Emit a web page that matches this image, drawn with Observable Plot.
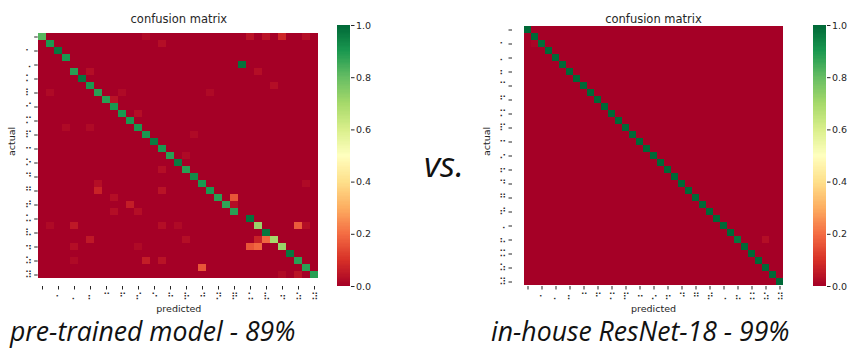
<!DOCTYPE html>
<html><head><meta charset="utf-8">
<script src="https://cdn.jsdelivr.net/npm/d3@7"></script>
<script src="https://cdn.jsdelivr.net/npm/@observablehq/plot@0.6"></script>
<style>
body{margin:0;background:#fff}
#root{position:relative;width:848px;height:349px;overflow:hidden;background:#fff;font-family:"DejaVu Sans",sans-serif;color:#262626}
.abs{position:absolute}
.cap{font-family:"Open Sans",sans-serif;font-style:italic;font-size:26.6px;line-height:26.6px;color:#111;white-space:nowrap}
.vs{font-family:"Open Sans",sans-serif;font-style:italic;font-size:35px;line-height:35px;color:#111;white-space:nowrap}
</style></head><body><div id="root"></div>
<script>
// ---------- data ----------
const leftCols = ["⠀","⠁","⠂","⠃","⠄","⠅","⠆","⠇","⠉","⠊","⠋","⠍","⠎","⠏","⠑","⠒","⠓","⠕","⠗","⠙","⠚","⠛","⠝","⠞","⠟","⠠","⠥","⠦","⠧","⠭","⠲","⠴","⠵","⠺","⠽"];
const leftRows = ["⠀","⠁","⠂","⠃","⠠","⠄","⠅","⠆","⠇","⠉","⠊","⠋","⠍","⠎","⠏","⠑","⠒","⠓","⠕","⠗","⠙","⠚","⠛","⠝","⠞","⠟","⠥","⠦","⠧","⠭","⠲","⠴","⠵","⠺","⠽"];
// diagonal (correct-class rate) per actual row
const leftDiag = [0.82,0.90,0.97,0.90,0.98,0.88,0.97,0.90,0.88,0.88,0.90,0.90,0.90,0.90,0.90,0.96,0.90,0.88,0.96,0.88,0.93,0.90,0.90,0.88,0.87,0.88,0.98,0.72,0.97,0.70,0.72,0.97,0.88,0.88,0.88];
// off-diagonal confusions: [row, col, value]
const leftOff = [
  [0,13,0.02],[0,26,0.04],[0,28,0.04],[0,30,0.08],[0,33,0.03],
  [1,15,0.03],[5,6,0.03],[5,27,0.03],[7,29,0.03],
  [8,1,0.02],[8,10,0.02],[8,21,0.02],[9,9,0.04],[11,12,0.03],
  [13,3,0.02],[13,6,0.02],[14,19,0.02],[17,18,0.02],[19,15,0.03],
  [21,7,0.03],[21,33,0.02],[22,7,0.07],[22,15,0.04],
  [23,9,0.03],[23,24,0.16],[24,11,0.06],[24,24,0.03],
  [25,9,0.03],[25,12,0.03],
  [27,1,0.02],[27,4,0.05],[27,15,0.03],[27,17,0.02],[27,32,0.17],[27,33,0.03],
  [29,6,0.05],[29,18,0.03],[29,27,0.07],[29,28,0.19],
  [30,4,0.03],[30,12,0.02],[30,26,0.16],[30,27,0.19],
  [32,4,0.02],[32,13,0.06],[32,15,0.04],
  [33,20,0.16],[34,30,0.02],[34,32,0.04]
];
const rightLabels = ["⠀","⠁","⠂","⠃","⠄","⠅","⠆","⠇","⠉","⠊","⠋","⠌","⠍","⠎","⠏","⠑","⠒","⠓","⠔","⠕","⠖","⠗","⠙","⠚","⠛","⠝","⠞","⠟","⠠","⠥","⠦","⠧","⠭","⠲","⠵","⠺","⠽"];
const rightDiag = [1,1,0.99,1,1,1,1,1,1,1,1,1,1,1,1,1,1,1,1,1,1,1,1,1,1,1,1,1,1,1,0.97,1,1,1,1,1,1];
const rightOff = [[2,1,0.01],[30,34,0.03]];
const colorTicks = [0,0.2,0.4,0.6,0.8,1.0];
const captions = ["pre-trained model - 89%","in-house ResNet-18 - 99%"];

// ---------- style ----------
const RDYLGN = ["#a50026","#d73027","#f46d43","#fdae61","#fee08b","#ffffbf","#d9ef8b","#a6d96a","#66bd63","#1a9850","#006837"];
const colorScale = {type:"linear", domain: RDYLGN.map((_, i) => i / 10), range: RDYLGN, clamp: true};

function buildCells(rows, cols, diag, off) {
  const m = rows.map(() => cols.map(() => 0));
  rows.forEach((lab, r) => { m[r][cols.indexOf(lab)] = diag[r]; });
  off.forEach(([r, c, v]) => { m[r][c] = v; });
  const out = [];
  m.forEach((row, r) => row.forEach((v, c) => out.push({r, c, v})));
  return out;
}

function heatmap(rows, cols, cells, w, ml, mr) {
  return Plot.plot({
    width: w, height: 320, marginLeft: ml, marginRight: mr, marginTop: 25, marginBottom: 34,
    style: {fontFamily: "DejaVu Sans", fontSize: "9px", color: "#262626", background: "transparent"},
    x: {type: "band", domain: d3.range(cols.length), padding: 0},
    y: {type: "band", domain: d3.range(rows.length), padding: 0},
    color: colorScale,
    marks: [
      Plot.cell(cells, {x: "c", y: "r", fill: "v", inset: 0, shapeRendering: "crispEdges"}),
      Plot.axisX(d3.range(0, cols.length, 2), {tickFormat: i => cols[i], tickSize: 3.5, tickPadding: 3, label: null, fontSize: 9.5}),
      Plot.axisY(d3.range(0, rows.length, 2), {tickFormat: i => rows[i], tickSize: 3.5, tickPadding: 3, label: null, fontSize: 9.5}),
      Plot.text(["confusion matrix"], {frameAnchor: "top", dy: -11, fontSize: 11.5}),
      Plot.text(["predicted"], {frameAnchor: "bottom", dy: 25, fontSize: 9.5}),
      Plot.text(["actual"], {frameAnchor: "left", dx: -26, rotate: -90, fontSize: 9.5})
    ]
  });
}

function colorbar() {
  const ramp = d3.range(200).map(i => [i / 200, (i + 1) / 200]);
  return Plot.plot({
    width: 50, height: 320, marginLeft: 0, marginRight: 37, marginTop: 25, marginBottom: 34,
    style: {fontFamily: "DejaVu Sans", fontSize: "9px", color: "#262626", background: "transparent"},
    x: {domain: [0, 1], axis: null},
    y: {domain: [0, 1]},
    color: colorScale,
    marks: [
      Plot.rect(ramp, {x1: 0, x2: 1, y1: d => d[0], y2: d => d[1], fill: d => (d[0] + d[1]) / 2, shapeRendering: "crispEdges"}),
      Plot.axisY(colorTicks, {anchor: "right", tickFormat: d3.format(".1f"), tickSize: 3.5, tickPadding: 2, label: null, fontSize: 9.5})
    ]
  });
}

const root = document.getElementById("root");
function place(el, left, top) { el.classList.add("abs"); el.style.left = left + "px"; el.style.top = top + "px"; root.appendChild(el); return el; }

place(heatmap(leftRows, leftCols, buildCells(leftRows, leftCols, leftDiag, leftOff), 330, 37.7, 11), 0, 0);
place(colorbar(), 337, 0);
place(heatmap(rightLabels, rightLabels, buildCells(rightLabels, rightLabels, rightDiag, rightOff), 330, 37, 11), 475, 0);
place(colorbar(), 812.5, 0);

function textDiv(cls, txt, left, top) { const d = document.createElement("div"); d.className = cls; d.textContent = txt; return place(d, left, top); }
textDiv("cap", captions[0], 10, 318);
textDiv("cap", captions[1], 491, 318);
textDiv("vs", "vs.", 424, 146);
</script></body></html>
